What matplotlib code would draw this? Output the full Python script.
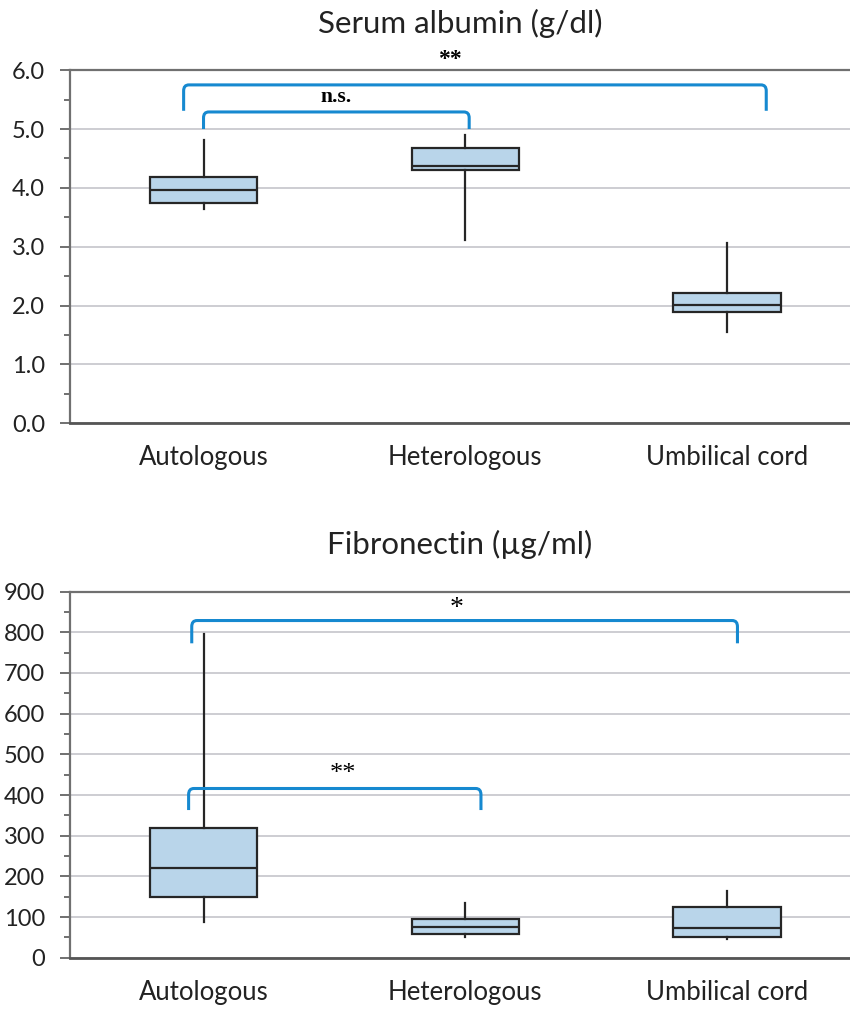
import matplotlib
matplotlib.use("Agg")
import matplotlib.pyplot as plt
from matplotlib.path import Path
from matplotlib.patches import PathPatch

plt.rcParams["font.family"] = ["Lato", "DejaVu Sans"]

groups = ["Autologous", "Heterologous", "Umbilical cord"]

# five-number summaries: low whisker, Q1, median, Q3, high whisker
alb_lo = [3.64, 3.12, 1.55]
alb_q1 = [3.75, 4.30, 1.89]
alb_med = [3.97, 4.38, 2.01]
alb_q3 = [4.18, 4.68, 2.21]
alb_hi = [4.81, 4.90, 3.06]

fn_lo = [87, 50, 45]
fn_q1 = [148, 58, 52]
fn_med = [220, 76, 72]
fn_q3 = [318, 95, 125]
fn_hi = [795, 135, 165]

# significance brackets: left x, right x, bar height, leg bottom, label
alb_sig = [(-0.076, 2.15, 5.75, 5.31, "**"), (0.0, 1.015, 5.29, 5.0, "n.s.")]
fn_sig = [(-0.045, 2.04, 829, 773, "*"), (-0.057, 1.06, 416, 363, "**")]

BLUE = "#1689d0"
FILL = "#b9d5ea"
EDGE = "#262626"


def stats(lo, q1, med, q3, hi):
    return [dict(whislo=a, q1=b, med=c, q3=d, whishi=e, fliers=[])
            for a, b, c, d, e in zip(lo, q1, med, q3, hi)]


def bracket(ax, x0, x1, ytop, ybot, rx, ry):
    verts = [(x0, ybot), (x0, ytop - ry), (x0, ytop), (x0 + rx, ytop),
             (x1 - rx, ytop), (x1, ytop), (x1, ytop - ry), (x1, ybot)]
    codes = [Path.MOVETO, Path.LINETO, Path.CURVE3, Path.CURVE3,
             Path.LINETO, Path.CURVE3, Path.CURVE3, Path.LINETO]
    ax.add_patch(PathPatch(Path(verts, codes), fill=False, ec=BLUE,
                           lw=2.2, clip_on=False, zorder=5))


def draw(ax, st, sig, title, ymax, major, minor, fmt, ry):
    ax.bxp(st, positions=range(3), widths=0.41, showcaps=False,
           showfliers=False, patch_artist=True,
           boxprops=dict(facecolor=FILL, edgecolor=EDGE, lw=1.6),
           medianprops=dict(color=EDGE, lw=1.6),
           whiskerprops=dict(color=EDGE, lw=1.6))
    for x0, x1, yt, yb, lab in sig:
        bracket(ax, x0, x1, yt, yb, 0.02, ry)

    ax.set_xlim(-0.51, 2.47)
    ax.set_ylim(0, ymax)
    n = int(round(ymax / major))
    ax.set_yticks([i * major for i in range(n + 1)])
    ax.set_yticklabels([fmt.format(i * major) for i in range(n + 1)])
    ax.set_yticks([i * minor for i in range(int(round(ymax / minor)) + 1)],
                  minor=True)
    ax.set_xticks(range(3))
    ax.set_xticklabels(groups)
    ax.grid(axis="y", color="#c9c9cf", lw=1.3)
    ax.set_axisbelow(True)
    for s in ["left", "top"]:
        ax.spines[s].set_color("#707070")
        ax.spines[s].set_linewidth(1.6)
    ax.spines["bottom"].set_color("#555555")
    ax.spines["bottom"].set_linewidth(2.0)
    ax.spines["right"].set_visible(False)
    ax.tick_params(axis="y", which="major", length=7, width=1.4,
                   color="#707070", labelsize=17, pad=11,
                   labelcolor="#222222")
    ax.tick_params(axis="y", which="minor", length=4, width=1.4,
                   color="#707070")
    ax.tick_params(axis="x", length=0, labelsize=18.5, pad=16,
                   labelcolor="#222222")
    ax.set_title(title, fontsize=22.5, pad=27, color="#222222")


fig = plt.figure(figsize=(8.5, 10.1), dpi=100)

ax1 = fig.add_axes([0.0824, 0.581, 0.9176, 0.3495])
draw(ax1, stats(alb_lo, alb_q1, alb_med, alb_q3, alb_hi), alb_sig,
     "Serum albumin (g/dl)", 6, 1, 0.5, "{:.1f}", 0.1)
ax1.text(0.943, 6.18, alb_sig[0][4], ha="center", va="center", fontsize=17,
         family="Liberation Serif", weight="bold", clip_on=False)
ax1.text(0.508, 5.54, alb_sig[1][4], ha="center", va="center", fontsize=15.5,
         family="Liberation Serif", weight="bold")

ax2 = fig.add_axes([0.0824, 0.0518, 0.9176, 0.3624])
draw(ax2, stats(fn_lo, fn_q1, fn_med, fn_q3, fn_hi), fn_sig,
     "Fibronectin (µg/ml)", 900, 100, 50, "{:.0f}", 15)
ax2.text(0.968, 858, fn_sig[0][4], ha="center", va="center", fontsize=20,
         family="Liberation Serif")
ax2.text(0.534, 452, fn_sig[1][4], ha="center", va="center", fontsize=19,
         family="Liberation Serif")

fig.savefig("out.png", dpi=100)
